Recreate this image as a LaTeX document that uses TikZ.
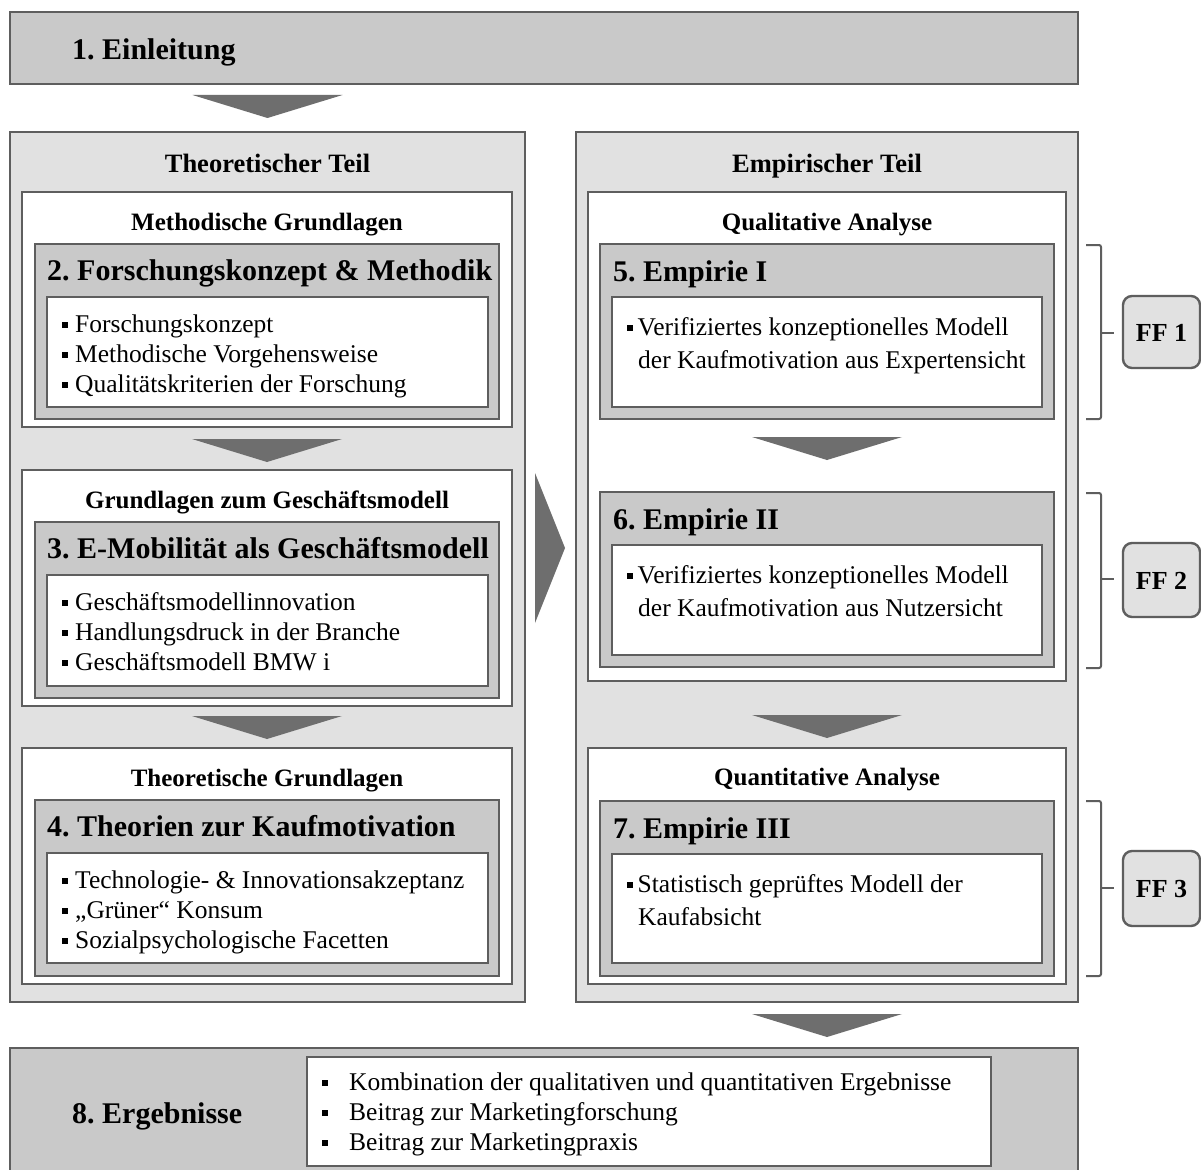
\documentclass[tikz,border=0pt]{standalone}
\usepackage{fontspec}
\setmainfont{Liberation Serif}
\frenchspacing

\definecolor{chapgray}{HTML}{C9C9C9}
\definecolor{panelgray}{HTML}{E1E1E1}
\definecolor{edgegray}{HTML}{5E5E5E}
\definecolor{flowgray}{HTML}{6E6E6E}

% rectangle node given by its corners (x1,y1) and (x2,y2), y counted downwards
\newcommand{\boxnode}[6]{%
  \node[#6, minimum width={(#4-#2)*1pt}, minimum height={(#5-#3)*1pt},
        anchor=north west, inner sep=0pt, outer sep=0pt] (#1) at (#2,#3) {};}
% downward block arrow: centre x, top y
\newcommand{\downflow}[2]{%
  \fill[flowgray] ({#1-75},#2) -- ({#1+75},#2) -- (#1,{#2+23}) -- cycle;}
% bracket on the right: top y, bottom y, tick y
\newcommand{\bracket}[3]{%
  \draw[bracketline] (1086,#1) -- (1101,#1) -- (1101,#2) -- (1086,#2);
  \draw[bracketline] (1101,#3) -- (1114,#3);}
\newcommand{\bul}{\rule[4pt]{6pt}{6pt}\hspace{7pt}}
\newcommand{\bulnarrow}{\rule[4pt]{6pt}{6pt}\hspace{4.5pt}}
\newcommand{\bulwide}{\rule[4.5pt]{6pt}{6pt}\hspace{21pt}}

\begin{document}
\begin{tikzpicture}[x=1pt,y=-1pt,
  chapbox/.style={fill=chapgray, draw=edgegray, line width=1.8pt},
  panelbox/.style={fill=panelgray, draw=edgegray, line width=1.8pt},
  whitebox/.style={fill=white, draw=edgegray, line width=1.8pt},
  ffbox/.style={fill=panelgray, draw=edgegray, line width=2.4pt, rounded corners=9pt},
  bracketline/.style={draw=edgegray, line width=2pt, rounded corners=2pt},
  titletext/.style={font=\bfseries\fontsize{30}{36}\selectfont, inner sep=0pt, anchor=base west},
  headtext/.style={font=\bfseries\fontsize{26.5}{32}\selectfont, inner sep=0pt, anchor=base},
  subtext/.style={font=\bfseries\fontsize{25}{30}\selectfont, inner sep=0pt, anchor=base},
  itemtext/.style={font=\fontsize{25.5}{30}\selectfont, inner sep=0pt, anchor=base west},
  fftext/.style={font=\bfseries\fontsize{26}{30}\selectfont, inner sep=0pt, anchor=base},
]
\clip (0,0) rectangle (1201,1169);
\fill[white] (0,0) rectangle (1201,1169);

% ---------- introduction ----------
\boxnode{intro}{10}{12}{1078}{84}{chapbox}
\node[titletext] (t1) at (72,60) {1. Einleitung};
\downflow{267.5}{95}

% ---------- theoretical part ----------
\boxnode{theo}{10}{132}{525}{1002}{panelbox}
\node[headtext] (htheo) at (267.5,172) {Theoretischer Teil};

\boxnode{w2}{22}{192}{512}{427}{whitebox}
\node[subtext] (s2) at (267,230) {Methodische Grundlagen};
\boxnode{g2}{35}{244}{499}{419}{chapbox}
\node[titletext] (c2) at (47,280) {2. Forschungskonzept \& Methodik};
\boxnode{i2}{47}{297}{488}{407}{whitebox}
\node[itemtext] (l2a) at (62,332) {\bul Forschungskonzept};
\node[itemtext] (l2b) at (62,362) {\bul Methodische Vorgehensweise};
\node[itemtext] (l2c) at (62,392) {\bul Qualitätskriterien der Forschung};
\downflow{267}{439}

\boxnode{w3}{22}{470}{512}{706}{whitebox}
\node[subtext] (s3) at (267,508) {Grundlagen zum Geschäftsmodell};
\boxnode{g3}{35}{522}{499}{698}{chapbox}
\node[titletext] (c3) at (47,558.5) {3. E-Mobilität als Geschäftsmodell};
\boxnode{i3}{47}{575}{488}{686}{whitebox}
\node[itemtext] (l3a) at (62,610) {\bul Geschäftsmodellinnovation};
\node[itemtext] (l3b) at (62,640) {\bul Handlungsdruck in der Branche};
\node[itemtext] (l3c) at (62,670) {\bul Geschäftsmodell BMW i};
\downflow{267}{716}

\boxnode{w4}{22}{748}{512}{984}{whitebox}
\node[subtext] (s4) at (267,786) {Theoretische Grundlagen};
\boxnode{g4}{35}{800}{499}{976}{chapbox}
\node[titletext] (c4) at (47,836.5) {4. Theorien zur Kaufmotivation};
\boxnode{i4}{47}{853}{488}{963}{whitebox}
\node[itemtext] (l4a) at (62,888) {\bul Technologie- \& Innovationsakzeptanz};
\node[itemtext] (l4b) at (62,918) {\bul „Grüner“ Konsum};
\node[itemtext] (l4c) at (62,948) {\bul Sozialpsychologische Facetten};

% transition to the empirical part
\fill[flowgray] (535,473) -- (565,548) -- (535,623) -- cycle;

% ---------- empirical part ----------
\boxnode{emp}{576}{132}{1078}{1002}{panelbox}
\node[headtext] (hemp) at (827,172) {Empirischer Teil};

\boxnode{wq}{588}{192}{1066}{681}{whitebox}
\node[subtext] (sq) at (827,230) {Qualitative Analyse};

\boxnode{g5}{600}{244}{1054}{419}{chapbox}
\node[titletext] (c5) at (613,281) {5. Empirie I};
\boxnode{i5}{612}{297}{1042}{407}{whitebox}
\node[itemtext] (l5a) at (627,335) {\bulnarrow Verifiziertes konzeptionelles Modell};
\node[itemtext] (l5b) at (638,368) {der Kaufmotivation aus Expertensicht};
\downflow{827}{437}

\boxnode{g6}{600}{492}{1054}{667}{chapbox}
\node[titletext] (c6) at (613,529) {6. Empirie II};
\boxnode{i6}{612}{545}{1042}{655}{whitebox}
\node[itemtext] (l6a) at (627,583) {\bulnarrow Verifiziertes konzeptionelles Modell};
\node[itemtext] (l6b) at (638,616) {der Kaufmotivation aus Nutzersicht};
\downflow{827}{715}

\boxnode{wn}{588}{748}{1066}{984}{whitebox}
\node[subtext] (sn) at (827,785) {Quantitative Analyse};
\boxnode{g7}{600}{801}{1054}{976}{chapbox}
\node[titletext] (c7) at (613,838) {7. Empirie III};
\boxnode{i7}{612}{854}{1042}{963}{whitebox}
\node[itemtext] (l7a) at (627,892) {\bulnarrow Statistisch geprüftes Modell der};
\node[itemtext] (l7b) at (638,925) {Kaufabsicht};

% ---------- research questions ----------
\bracket{245}{419}{333}
\boxnode{ff1}{1123}{296}{1200}{368}{ffbox}
\node[fftext] (ff1t) at (1161.5,341) {FF 1};
\bracket{493}{668}{579}
\boxnode{ff2}{1123}{543}{1200}{617}{ffbox}
\node[fftext] (ff2t) at (1161.5,589) {FF 2};
\bracket{801}{976}{888}
\boxnode{ff3}{1123}{851}{1200}{926}{ffbox}
\node[fftext] (ff3t) at (1161.5,897) {FF 3};

% ---------- results ----------
\downflow{827}{1014}
\boxnode{res}{10}{1048}{1078}{1185}{chapbox}
\node[titletext] (c8) at (72,1123) {8. Ergebnisse};
\boxnode{ires}{307}{1057}{991}{1166}{whitebox}
\node[itemtext] (l8a) at (322,1090) {\bulwide Kombination der qualitativen und quantitativen Ergebnisse};
\node[itemtext] (l8b) at (322,1120) {\bulwide Beitrag zur Marketingforschung};
\node[itemtext] (l8c) at (322,1150) {\bulwide Beitrag zur Marketingpraxis};
\end{tikzpicture}
\end{document}
